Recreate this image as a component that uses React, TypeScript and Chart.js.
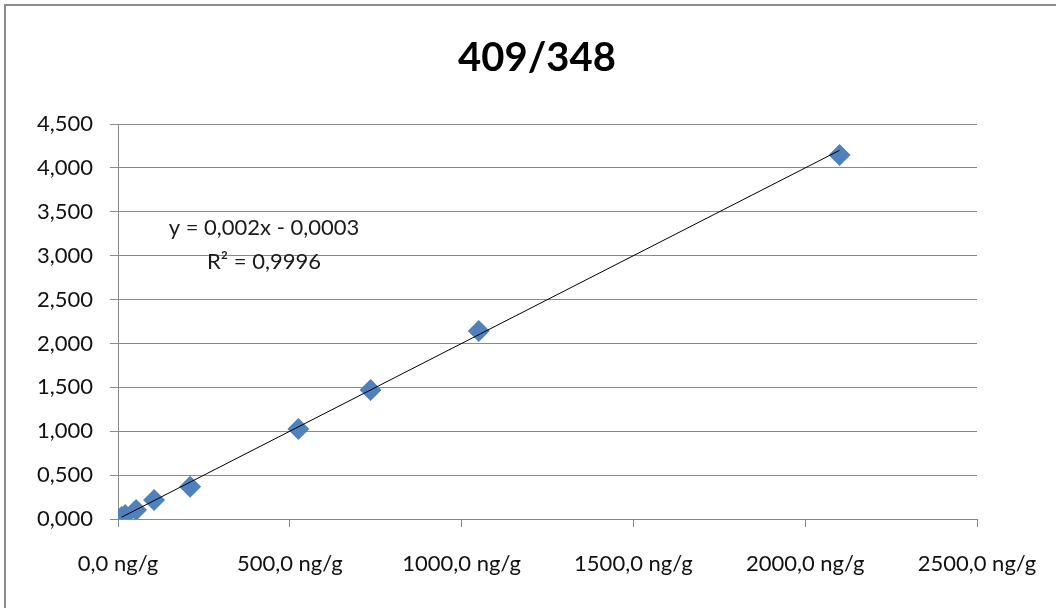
import { useEffect, useRef } from "react";
import { Chart, registerables } from "chart.js";

Chart.register(...registerables);

// Calibration standards: concentration (ng/g) vs. 409/348 area ratio
const concentrations = [10.5, 21, 52.5, 105, 210, 525, 735, 1050, 2100];
const ratios = [0.023, 0.045, 0.103, 0.216, 0.368, 1.025, 1.47, 2.142, 4.147];

// Linear regression reported for the calibration
const slope = 0.002;
const intercept = -0.0003;
const rSquared = 0.9996;

const chartTitle = "409/348";
const xTickValues = [0, 500, 1000, 1500, 2000, 2500];
const yTickValues = [0, 0.5, 1, 1.5, 2, 2.5, 3, 3.5, 4, 4.5];

const FONT = "Lato, 'Open Sans', sans-serif";
const GRID = "#8a8a8a";
const MARKER = "#4f81bd";

const fmt = (v: number, d: number) => v.toFixed(d).replace(".", ",");

// Title centred over the whole frame, plus the regression equation box
const textOverlay = {
  id: "textOverlay",
  afterDatasetsDraw(chart: Chart) {
    const { ctx, chartArea, width } = chart;
    ctx.save();
    ctx.textAlign = "center";
    ctx.textBaseline = "middle";

    ctx.fillStyle = "#000000";
    ctx.font = `bold 40px ${FONT}`;
    ctx.fillText(chartTitle, width / 2 + 9, 58);

    ctx.fillStyle = "#1a1a1a";
    ctx.font = `22px ${FONT}`;
    const cx = chartArea.left + 146;
    const sign = intercept < 0 ? "-" : "+";
    ctx.fillText(
      `y = ${fmt(slope, 3)}x ${sign} ${fmt(Math.abs(intercept), 4)}`,
      cx,
      chartArea.top + 104
    );
    ctx.fillText(`R² = ${fmt(rSquared, 4)}`, cx, chartArea.top + 138);
    ctx.restore();
  },
};

export default function App() {
  const canvasRef = useRef<HTMLCanvasElement | null>(null);

  useEffect(() => {
    document.body.style.margin = "0";
    const canvas = canvasRef.current;
    if (!canvas) return;

    const xMin = Math.min(...concentrations);
    const xMax = Math.max(...concentrations);
    const trend = [
      { x: xMin, y: slope * xMin + intercept },
      { x: xMax, y: slope * xMax + intercept },
    ];

    const chart = new Chart(canvas, {
      type: "scatter",
      data: {
        datasets: [
          {
            type: "line",
            label: "Linear",
            data: trend,
            borderColor: "#000000",
            borderWidth: 1,
            pointRadius: 0,
            fill: false,
            order: 0,
          },
          {
            label: chartTitle,
            data: concentrations.map((x, i) => ({ x, y: ratios[i] })),
            pointStyle: "rectRot",
            pointRadius: 11,
            backgroundColor: MARKER,
            borderColor: MARKER,
            borderWidth: 0,
            order: 1,
          },
        ],
      },
      options: {
        animation: false,
        responsive: false,
        maintainAspectRatio: false,
        layout: { padding: { left: 0, right: 79, top: 124, bottom: 0 } },
        plugins: {
          legend: { display: false },
          tooltip: { enabled: false },
          title: { display: false },
        },
        scales: {
          x: {
            type: "linear",
            min: 0,
            max: 2500,
            afterBuildTicks: (s: any) => {
              s.ticks = xTickValues.map((value) => ({ value }));
            },
            afterFit: (s: any) => {
              s.height = 89;
              s.paddingLeft = 0;
              s.paddingRight = 0;
            },
            ticks: {
              color: "#111111",
              font: { family: FONT, size: 22 },
              padding: 24,
              maxRotation: 0,
              callback: (v: any) => `${fmt(Number(v), 1)} ng/g`,
            },
            grid: {
              drawOnChartArea: false,
              drawTicks: true,
              tickLength: 8,
              color: GRID,
            },
            border: { display: true, color: GRID, width: 1 },
          },
          y: {
            type: "linear",
            min: 0,
            max: 4.5,
            afterBuildTicks: (s: any) => {
              s.ticks = yTickValues.map((value) => ({ value }));
            },
            afterFit: (s: any) => {
              s.width = 118;
            },
            ticks: {
              color: "#111111",
              font: { family: FONT, size: 22 },
              padding: 17,
              callback: (v: any) => fmt(Number(v), 3),
            },
            grid: {
              color: GRID,
              lineWidth: 1,
              tickLength: 8,
            },
            border: { display: true, color: GRID, width: 1 },
          },
        },
      },
      plugins: [textOverlay],
    });

    return () => chart.destroy();
  }, []);

  return (
    <div
      style={{
        position: "fixed",
        left: 0,
        top: 0,
        width: 1056,
        height: 608,
        overflow: "hidden",
        background: "#ffffff",
      }}
    >
      <canvas ref={canvasRef} width={1056} height={608} style={{ display: "block" }} />
      <div
        style={{
          position: "absolute",
          left: 4,
          top: 4,
          width: 1080,
          height: 640,
          border: "2px solid #8c8c8c",
          boxSizing: "border-box",
          pointerEvents: "none",
        }}
      />
    </div>
  );
}
